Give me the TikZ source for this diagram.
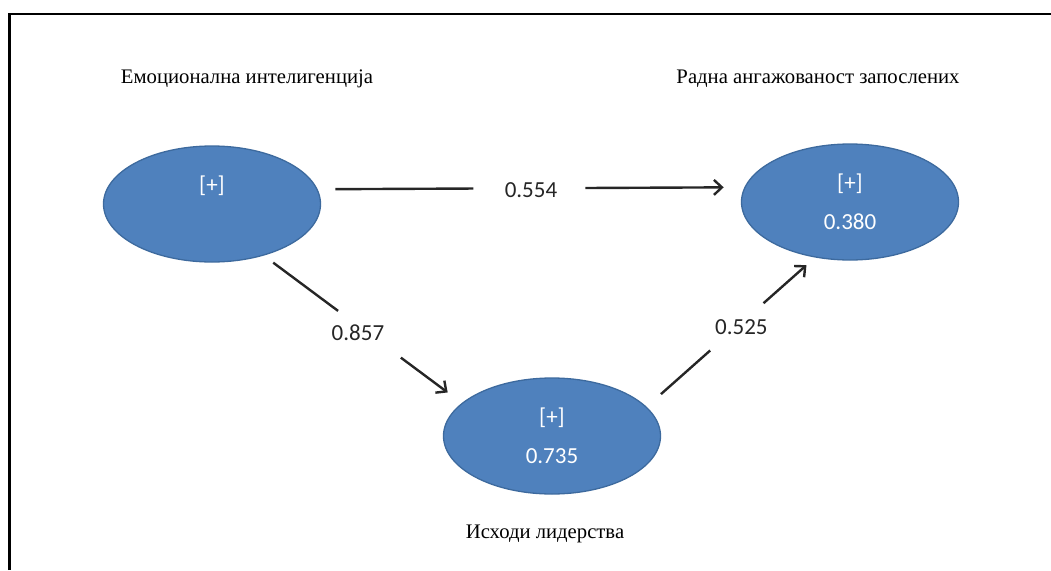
\documentclass[tikz,border=0pt]{standalone}
\usepackage{fontspec}
\setmainfont{Liberation Serif}
\newfontfamily\numfont{Carlito}
\usetikzlibrary{arrows.meta,shapes.geometric}

\definecolor{ellfill}{HTML}{4F81BD}
\definecolor{elledge}{HTML}{3D6A9E}
\definecolor{ink}{HTML}{262626}

\tikzset{
  latent/.style={ellipse, draw=elledge, line width=1.3pt, fill=ellfill,
    minimum width=217pt, minimum height=116pt, inner sep=0pt, outer sep=0pt,
    text=white, align=center, font=\numfont\fontsize{23}{39}\selectfont},
  title/.style={anchor=base, inner sep=0pt, font=\fontsize{20.7}{24}\selectfont},
  conn/.style={draw=ink, line width=2.4pt},
  arr/.style={-{Straight Barb[length=8pt,width=15pt,line width=2.4pt]}},
  val/.style={inner sep=0pt, text=ink, font=\numfont\fontsize{23}{26}\selectfont}
}

\begin{document}
\begin{tikzpicture}[x=1pt,y=-1pt]
\useasboundingbox (0,0) rectangle (1051,570);

% page frame
\draw[line width=2.2pt, line join=miter] (9.5,570) -- (9.5,14.3) -- (1051,14.3);

% latent variables
\node[latent] (emo) at (212,204) {[+]\\\phantom{0.000}};
\node[latent] (rad) at (850,202) {[+]\\0.380};
\node[latent] (lid) at (552,436) {[+]\\0.735};

% variable names
\node[title] (temo) at (247,83) {Емоционална интелигенција};
\node[title] (trad) at (818,83) {Радна ангажованост запослених};
\node[title] (tlid) at (545,538) {Исходи лидерства};

% path: emotional intelligence -> work engagement
\path (emo.8.43) -- (rad.172.71)
  coordinate[pos=.043] (h1) coordinate[pos=.3655] (h2)
  coordinate[pos=.627] (h3) coordinate[pos=.950] (h4)
  node[val, pos=.5, yshift=-1.5pt] (v554) {0.554};
\draw[conn] (h1) -- (h2);
\draw[conn, arr] (h3) -- (h4);

% path: emotional intelligence -> leadership outcomes
\path (emo.-45.9) -- (lid.160.43)
  coordinate[pos=.0506] (d1) coordinate[pos=.376] (d2)
  coordinate[pos=.6915] (d3) coordinate[pos=.9265] (d4)
  node[val, pos=.476, yshift=-7.4pt] (v857) {0.857};
\draw[conn] (d1) -- (d2);
\draw[conn, arr] (d3) -- (d4);

% path: leadership outcomes -> work engagement
\path (lid.17.67) -- (rad.-122.59)
  coordinate[pos=.0872] (u1) coordinate[pos=.3777] (u2)
  coordinate[pos=.6924] (u3) coordinate[pos=.9458] (u4)
  node[val, pos=.5616, yshift=-4.6pt] (v525) {0.525};
\draw[conn] (u1) -- (u2);
\draw[conn, arr] (u3) -- (u4);
\end{tikzpicture}
\end{document}
